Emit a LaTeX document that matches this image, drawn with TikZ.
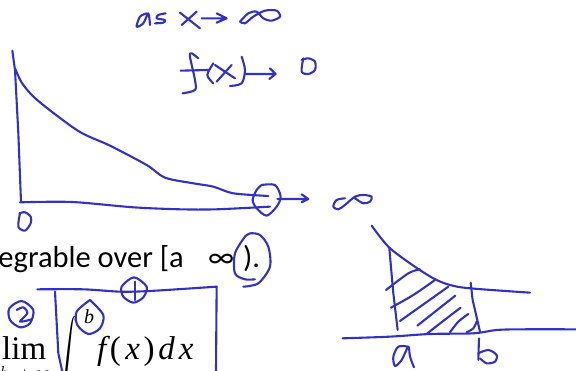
\documentclass[tikz,border=0pt]{standalone}
\usepackage{fontspec}
\setmainfont{Carlito}
\newfontfamily\formulafont{Liberation Serif}
\definecolor{inkblue}{RGB}{50, 50, 200}

\begin{document}
\begin{tikzpicture}[
  x=1pt, y=-1pt,
  ink/.style={draw=inkblue, line width=2.1pt, line cap=round, line join=round},
  zoomed/.style={x=0.3333pt, y=-0.3333pt},
  printed/.style={font=\fontsize{30.5}{36}\selectfont, inner sep=0pt, anchor=base west},
  formula/.style={printed, font=\fontsize{33}{38}\selectfont\formulafont}
]
  \useasboundingbox (0,0) rectangle (576,371);
  \clip (0,0) rectangle (576,371);

  % Printed text
  \node[printed, anchor=base east] (line) at (184,268) {egrable over [a};
  \node[printed] (infty) at (208,268) {∞};
  \node[printed] (close) at (243,268) {).};
  \node[formula] (lim) at (2,360) {lim};
  \node[formula, font=\fontsize{18}{20}\selectfont\formulafont\itshape] (lower) at (0,379) {$b\to\infty$};
  \node[inner sep=0pt, anchor=north west] (intsign) at (56,316) {\scalebox{2.2}[4]{$\displaystyle\int$}};
  \node[formula, font=\fontsize{20}{24}\selectfont\formulafont\itshape] (upper) at (84,324) {b};
  \node[formula] (integrand) at (97,360) {{\itshape f}\kern3.5pt(\kern4.5pt{\itshape x}\kern3.5pt)\kern4pt{\itshape d}\kern4pt{\itshape x}};

  % Sketch of f(x)
  \begin{scope}[zoomed]
    % as x -> infinity
    \draw[ink] plot[smooth] coordinates {(440,40) (420,50) (410,80) (430,70) (445,40) (450,75)};
    \draw[ink] plot[smooth] coordinates {(497,40) (475,45) (470,55) (495,60) (490,68) (465,70)};
    \draw[ink] (540,38) -- (600,85);
    \draw[ink] (590,35) -- (545,75);
    \draw[ink] (605,55) -- (680,55) (650,40) -- (680,55) -- (650,68);
    \draw[ink] plot[smooth] coordinates {(720,65) (745,40) (770,35) (790,55) (815,62) (840,50) (830,32) (795,32) (760,50) (735,70) (720,65)};

    % f(x) -> 0
    \draw[ink] plot[smooth] coordinates {(595,175) (575,160) (570,170) (585,240) (585,270) (548,280)};
    \draw[ink] (542,212) -- (625,210);
    \draw[ink] plot[smooth] coordinates {(640,190) (622,225) (640,250)};
    \draw[ink] (645,195) -- (705,235);
    \draw[ink] (695,195) -- (650,245);
    \draw[ink] plot[smooth] coordinates {(725,170) (735,210) (725,250) (690,258)};
    \draw[ink] (737,222) -- (825,222) (810,205) -- (827,222) -- (808,237);
    \draw[ink] plot[smooth] coordinates {(910,175) (905,215) (925,222) (945,210) (945,185) (925,175) (905,180)};

    % Axes and curve
    \draw[ink] plot coordinates {(37,152) (45,210) (55,400) (63,605)};
    \draw[ink] plot[smooth] coordinates {(45,205) (68,252) (115,303) (235,393) (330,437) (440,495) (495,533) (580,550) (640,560) (700,580) (805,588)};
    \draw[ink] plot[smooth] coordinates {(60,607) (215,606) (400,622) (540,628) (650,628) (810,620)};
    \draw[ink] plot[smooth] coordinates {(60,640) (55,680) (75,692) (92,670) (92,650) (75,637) (58,640)};

    % Circled end of the axis
    \draw[ink] plot[smooth] coordinates {(785,555) (825,555) (842,590) (830,620) (800,647) (770,625) (758,600) (770,570) (785,555)};
    \draw[ink] (832,597) -- (925,597) (905,583) -- (925,597) -- (905,607);
    \draw[ink] plot[smooth] coordinates {(1035,595) (1010,600) (1000,620) (1015,628) (1035,615) (1065,590) (1090,585) (1115,590) (1110,605) (1090,610) (1065,595)};
  \end{scope}

  % Marks on the printed text
  \begin{scope}[zoomed, yshift=-220pt]
    \draw[ink] plot[smooth] coordinates {(735,50) (705,100) (705,160) (735,178) (765,178)};
    \draw[ink] plot[smooth] coordinates {(730,200) (775,190) (810,140) (805,80) (780,45) (750,40) (735,50)};
    \draw[ink] plot[smooth] coordinates {(112,208) (250,208) (360,215) (450,213) (650,200)};
    \draw[ink] (650,200) -- (648,460);
    \draw[ink] plot coordinates {(165,215) (175,400) (188,460)};
    \draw[ink] plot[smooth cycle] coordinates {(402,172) (440,200) (430,232) (400,248) (370,230) (365,200)};
    \draw[ink] (405,185) -- (405,240);
    \draw[ink] plot[smooth cycle] coordinates {(65,243) (100,270) (90,310) (60,322) (30,300) (28,265)};
    \draw[ink] plot[smooth] coordinates {(50,270) (70,262) (82,280) (60,305) (95,298)};
    \draw[ink] plot[smooth] coordinates {(270,240) (310,285) (300,325) (265,342) (232,315) (230,275) (270,240)};
  \end{scope}

  % Sketch of the shaded area
  \begin{scope}[zoomed, xshift=330pt, yshift=-210pt]
    \draw[ink] plot[smooth] coordinates {(125,47) (175,110) (240,160) (310,205) (360,225) (420,235) (600,248)};
    \draw[ink] plot coordinates {(178,115) (190,250) (203,360)};
    \draw[ink] plot coordinates {(422,218) (428,270) (450,365)};
    \draw[ink] plot[smooth] coordinates {(38,385) (180,380) (300,372) (430,370) (500,360) (575,358) (737,358)};
    % Hatching
    \draw[ink] plot[smooth] coordinates {(168,240) (235,190) (270,178)};
    \draw[ink] plot[smooth] coordinates {(183,293) (250,255) (315,210)};
    \draw[ink] (210,333) -- (355,230);
    \draw[ink] (262,347) -- (376,257);
    \draw[ink] plot[smooth] coordinates {(292,370) (350,325) (392,293)};
    \draw[ink] plot[smooth] coordinates {(360,367) (385,335) (415,312)};
    \draw[ink] plot[smooth] coordinates {(410,367) (430,355) (440,335)};
    % Labels a and b
    \draw[ink] plot[smooth] coordinates {(235,410) (205,410) (190,440) (195,468) (215,450) (235,410) (240,440) (252,472)};
    \draw[ink] (447,385) -- (445,450);
    \draw[ink] plot[smooth] coordinates {(445,430) (475,420) (500,435) (495,455) (470,460) (450,445)};
  \end{scope}
\end{tikzpicture}
\end{document}
